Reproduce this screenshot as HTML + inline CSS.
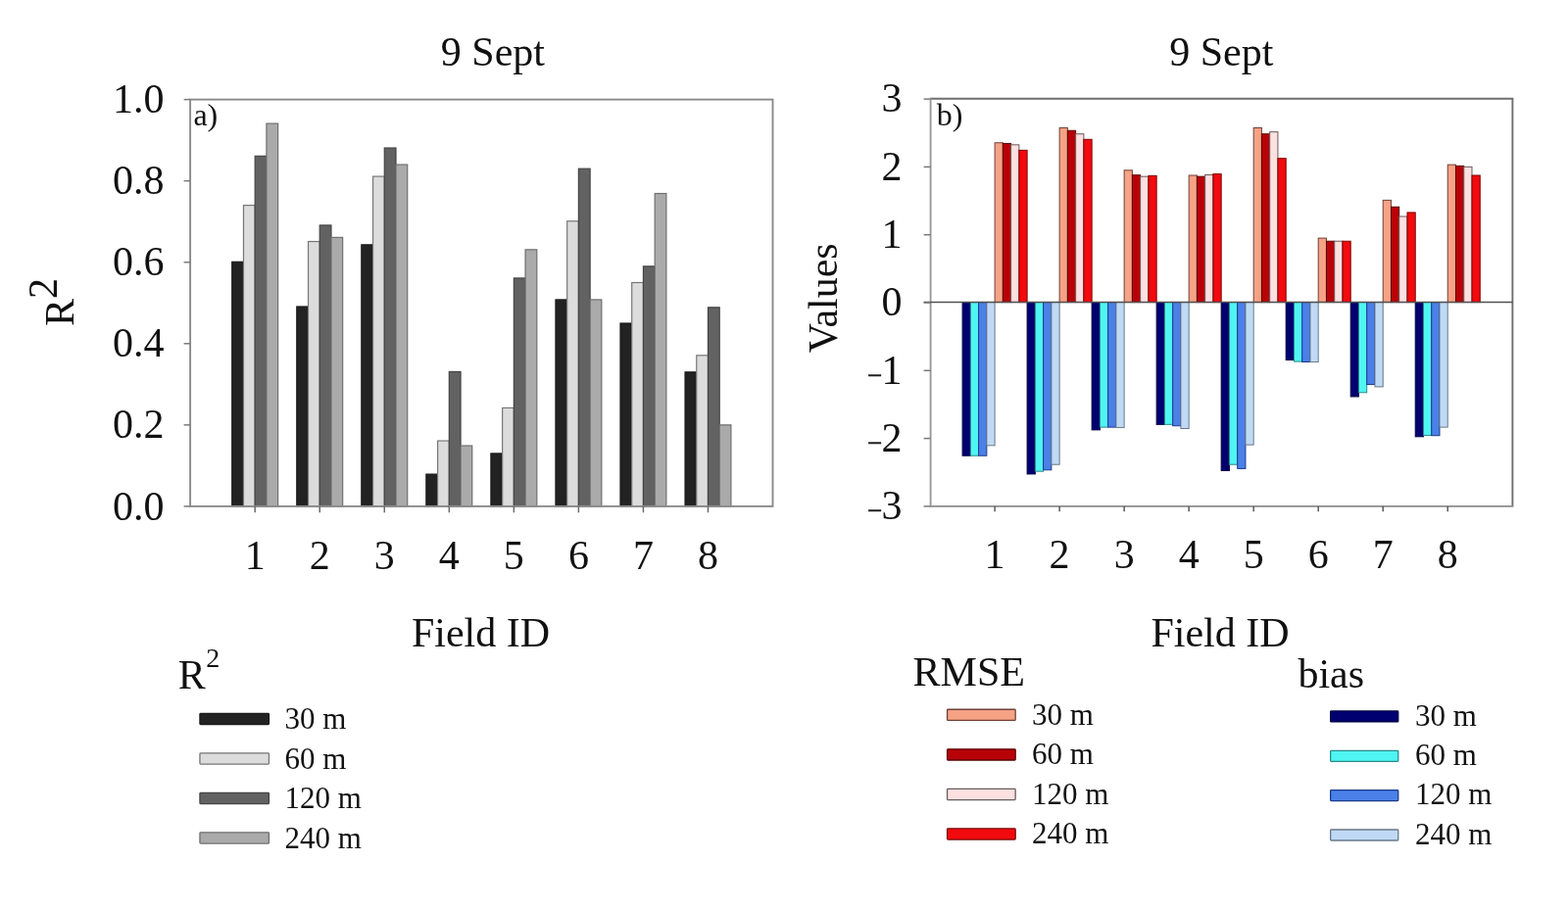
<!DOCTYPE html>
<html><head><meta charset="utf-8"><title>9 Sept</title>
<style>
html,body{margin:0;padding:0;background:#fff;}
body{width:1600px;height:928px;overflow:hidden;}
svg{display:block;}
svg text{font-family:"Liberation Serif", "Times New Roman", serif;fill:#111;}
</style></head>
<body>
<svg width="1600" height="928" viewBox="0 0 1600 928">
<rect x="0" y="0" width="1600" height="928" fill="#ffffff"/>
<rect x="236.76" y="267.30" width="11.72" height="249.60" fill="#222222" stroke="#1a1a1a" stroke-width="1.2"/>
<rect x="248.48" y="209.58" width="11.72" height="307.32" fill="#dcdcdc" stroke="#777777" stroke-width="1.2"/>
<rect x="260.20" y="159.33" width="11.72" height="357.57" fill="#626262" stroke="#444444" stroke-width="1.2"/>
<rect x="271.92" y="126.10" width="11.72" height="390.80" fill="#aaaaaa" stroke="#6f6f6f" stroke-width="1.2"/>
<rect x="302.80" y="312.99" width="11.72" height="203.91" fill="#222222" stroke="#1a1a1a" stroke-width="1.2"/>
<rect x="314.52" y="246.54" width="11.72" height="270.36" fill="#dcdcdc" stroke="#777777" stroke-width="1.2"/>
<rect x="326.24" y="229.93" width="11.72" height="286.97" fill="#626262" stroke="#444444" stroke-width="1.2"/>
<rect x="337.96" y="242.39" width="11.72" height="274.51" fill="#aaaaaa" stroke="#6f6f6f" stroke-width="1.2"/>
<rect x="368.84" y="249.86" width="11.72" height="267.04" fill="#222222" stroke="#1a1a1a" stroke-width="1.2"/>
<rect x="380.56" y="180.09" width="11.72" height="336.81" fill="#dcdcdc" stroke="#777777" stroke-width="1.2"/>
<rect x="392.28" y="151.02" width="11.72" height="365.88" fill="#626262" stroke="#444444" stroke-width="1.2"/>
<rect x="404.00" y="168.05" width="11.72" height="348.85" fill="#aaaaaa" stroke="#6f6f6f" stroke-width="1.2"/>
<rect x="434.88" y="484.09" width="11.72" height="32.81" fill="#222222" stroke="#1a1a1a" stroke-width="1.2"/>
<rect x="446.60" y="450.04" width="11.72" height="66.86" fill="#dcdcdc" stroke="#777777" stroke-width="1.2"/>
<rect x="458.32" y="379.44" width="11.72" height="137.46" fill="#626262" stroke="#444444" stroke-width="1.2"/>
<rect x="470.04" y="455.02" width="11.72" height="61.88" fill="#aaaaaa" stroke="#6f6f6f" stroke-width="1.2"/>
<rect x="500.92" y="462.91" width="11.72" height="53.99" fill="#222222" stroke="#1a1a1a" stroke-width="1.2"/>
<rect x="512.64" y="416.40" width="11.72" height="100.50" fill="#dcdcdc" stroke="#777777" stroke-width="1.2"/>
<rect x="524.36" y="283.92" width="11.72" height="232.98" fill="#626262" stroke="#444444" stroke-width="1.2"/>
<rect x="536.08" y="254.85" width="11.72" height="262.05" fill="#aaaaaa" stroke="#6f6f6f" stroke-width="1.2"/>
<rect x="566.96" y="305.93" width="11.72" height="210.97" fill="#222222" stroke="#1a1a1a" stroke-width="1.2"/>
<rect x="578.68" y="225.77" width="11.72" height="291.13" fill="#dcdcdc" stroke="#777777" stroke-width="1.2"/>
<rect x="590.40" y="172.20" width="11.72" height="344.70" fill="#626262" stroke="#444444" stroke-width="1.2"/>
<rect x="602.12" y="305.93" width="11.72" height="210.97" fill="#aaaaaa" stroke="#6f6f6f" stroke-width="1.2"/>
<rect x="633.00" y="330.01" width="11.72" height="186.88" fill="#222222" stroke="#1a1a1a" stroke-width="1.2"/>
<rect x="644.72" y="288.49" width="11.72" height="228.41" fill="#dcdcdc" stroke="#777777" stroke-width="1.2"/>
<rect x="656.44" y="271.87" width="11.72" height="245.03" fill="#626262" stroke="#444444" stroke-width="1.2"/>
<rect x="668.16" y="197.53" width="11.72" height="319.37" fill="#aaaaaa" stroke="#6f6f6f" stroke-width="1.2"/>
<rect x="699.04" y="379.85" width="11.72" height="137.05" fill="#222222" stroke="#1a1a1a" stroke-width="1.2"/>
<rect x="710.76" y="362.82" width="11.72" height="154.08" fill="#dcdcdc" stroke="#777777" stroke-width="1.2"/>
<rect x="722.48" y="313.82" width="11.72" height="203.08" fill="#626262" stroke="#444444" stroke-width="1.2"/>
<rect x="734.20" y="433.84" width="11.72" height="83.06" fill="#aaaaaa" stroke="#6f6f6f" stroke-width="1.2"/>
<rect x="982.09" y="308.60" width="8.25" height="156.62" fill="#000070" stroke="#000040" stroke-width="1.0"/>
<rect x="990.34" y="308.60" width="8.25" height="156.62" fill="#4ff5f2" stroke="#2a8a8a" stroke-width="1.0"/>
<rect x="998.60" y="308.60" width="8.25" height="156.62" fill="#4a80e8" stroke="#1a3a8a" stroke-width="1.0"/>
<rect x="1006.85" y="308.60" width="8.25" height="146.22" fill="#c0daf6" stroke="#6a7888" stroke-width="1.0"/>
<rect x="1015.10" y="145.74" width="8.25" height="162.86" fill="#f6a285" stroke="#6e4038" stroke-width="1.0"/>
<rect x="1023.35" y="146.44" width="8.25" height="162.16" fill="#b80208" stroke="#5a0404" stroke-width="1.0"/>
<rect x="1031.61" y="147.82" width="8.25" height="160.78" fill="#fde0e0" stroke="#6a5a5a" stroke-width="1.0"/>
<rect x="1039.86" y="153.37" width="8.25" height="155.23" fill="#f20a0e" stroke="#7a0606" stroke-width="1.0"/>
<rect x="1048.11" y="308.60" width="8.25" height="175.33" fill="#000070" stroke="#000040" stroke-width="1.0"/>
<rect x="1056.36" y="308.60" width="8.25" height="172.56" fill="#4ff5f2" stroke="#2a8a8a" stroke-width="1.0"/>
<rect x="1064.62" y="308.60" width="8.25" height="171.17" fill="#4a80e8" stroke="#1a3a8a" stroke-width="1.0"/>
<rect x="1072.87" y="308.60" width="8.25" height="165.63" fill="#c0daf6" stroke="#6a7888" stroke-width="1.0"/>
<rect x="1081.12" y="130.50" width="8.25" height="178.10" fill="#f6a285" stroke="#6e4038" stroke-width="1.0"/>
<rect x="1089.37" y="133.27" width="8.25" height="175.33" fill="#b80208" stroke="#5a0404" stroke-width="1.0"/>
<rect x="1097.63" y="136.74" width="8.25" height="171.86" fill="#fde0e0" stroke="#6a5a5a" stroke-width="1.0"/>
<rect x="1105.88" y="142.28" width="8.25" height="166.32" fill="#f20a0e" stroke="#7a0606" stroke-width="1.0"/>
<rect x="1114.13" y="308.60" width="8.25" height="130.28" fill="#000070" stroke="#000040" stroke-width="1.0"/>
<rect x="1122.38" y="308.60" width="8.25" height="127.51" fill="#4ff5f2" stroke="#2a8a8a" stroke-width="1.0"/>
<rect x="1130.64" y="308.60" width="8.25" height="127.51" fill="#4a80e8" stroke="#1a3a8a" stroke-width="1.0"/>
<rect x="1138.89" y="308.60" width="8.25" height="127.86" fill="#c0daf6" stroke="#6a7888" stroke-width="1.0"/>
<rect x="1147.14" y="173.81" width="8.25" height="134.79" fill="#f6a285" stroke="#6e4038" stroke-width="1.0"/>
<rect x="1155.39" y="178.73" width="8.25" height="129.87" fill="#b80208" stroke="#5a0404" stroke-width="1.0"/>
<rect x="1163.65" y="180.19" width="8.25" height="128.41" fill="#fde0e0" stroke="#6a5a5a" stroke-width="1.0"/>
<rect x="1171.90" y="179.36" width="8.25" height="129.24" fill="#f20a0e" stroke="#7a0606" stroke-width="1.0"/>
<rect x="1180.15" y="308.60" width="8.25" height="124.74" fill="#000070" stroke="#000040" stroke-width="1.0"/>
<rect x="1188.40" y="308.60" width="8.25" height="124.74" fill="#4ff5f2" stroke="#2a8a8a" stroke-width="1.0"/>
<rect x="1196.66" y="308.60" width="8.25" height="126.13" fill="#4a80e8" stroke="#1a3a8a" stroke-width="1.0"/>
<rect x="1204.91" y="308.60" width="8.25" height="128.90" fill="#c0daf6" stroke="#6a7888" stroke-width="1.0"/>
<rect x="1213.16" y="179.01" width="8.25" height="129.59" fill="#f6a285" stroke="#6e4038" stroke-width="1.0"/>
<rect x="1221.41" y="180.19" width="8.25" height="128.41" fill="#b80208" stroke="#5a0404" stroke-width="1.0"/>
<rect x="1229.67" y="178.52" width="8.25" height="130.08" fill="#fde0e0" stroke="#6a5a5a" stroke-width="1.0"/>
<rect x="1237.92" y="177.62" width="8.25" height="130.98" fill="#f20a0e" stroke="#7a0606" stroke-width="1.0"/>
<rect x="1246.17" y="308.60" width="8.25" height="171.86" fill="#000070" stroke="#000040" stroke-width="1.0"/>
<rect x="1254.42" y="308.60" width="8.25" height="165.63" fill="#4ff5f2" stroke="#2a8a8a" stroke-width="1.0"/>
<rect x="1262.68" y="308.60" width="8.25" height="169.79" fill="#4a80e8" stroke="#1a3a8a" stroke-width="1.0"/>
<rect x="1270.93" y="308.60" width="8.25" height="145.53" fill="#c0daf6" stroke="#6a7888" stroke-width="1.0"/>
<rect x="1279.18" y="130.50" width="8.25" height="178.10" fill="#f6a285" stroke="#6e4038" stroke-width="1.0"/>
<rect x="1287.43" y="136.74" width="8.25" height="171.86" fill="#b80208" stroke="#5a0404" stroke-width="1.0"/>
<rect x="1295.69" y="134.66" width="8.25" height="173.94" fill="#fde0e0" stroke="#6a5a5a" stroke-width="1.0"/>
<rect x="1303.94" y="161.68" width="8.25" height="146.92" fill="#f20a0e" stroke="#7a0606" stroke-width="1.0"/>
<rect x="1312.19" y="308.60" width="8.25" height="58.91" fill="#000070" stroke="#000040" stroke-width="1.0"/>
<rect x="1320.44" y="308.60" width="8.25" height="60.50" fill="#4ff5f2" stroke="#2a8a8a" stroke-width="1.0"/>
<rect x="1328.70" y="308.60" width="8.25" height="60.91" fill="#4a80e8" stroke="#1a3a8a" stroke-width="1.0"/>
<rect x="1336.95" y="308.60" width="8.25" height="60.98" fill="#c0daf6" stroke="#6a7888" stroke-width="1.0"/>
<rect x="1345.20" y="243.11" width="8.25" height="65.49" fill="#f6a285" stroke="#6e4038" stroke-width="1.0"/>
<rect x="1353.45" y="246.23" width="8.25" height="62.37" fill="#b80208" stroke="#5a0404" stroke-width="1.0"/>
<rect x="1361.71" y="246.23" width="8.25" height="62.37" fill="#fde0e0" stroke="#6a5a5a" stroke-width="1.0"/>
<rect x="1369.96" y="246.23" width="8.25" height="62.37" fill="#f20a0e" stroke="#7a0606" stroke-width="1.0"/>
<rect x="1378.21" y="308.60" width="8.25" height="96.33" fill="#000070" stroke="#000040" stroke-width="1.0"/>
<rect x="1386.46" y="308.60" width="8.25" height="92.17" fill="#4ff5f2" stroke="#2a8a8a" stroke-width="1.0"/>
<rect x="1394.72" y="308.60" width="8.25" height="83.85" fill="#4a80e8" stroke="#1a3a8a" stroke-width="1.0"/>
<rect x="1402.97" y="308.60" width="8.25" height="86.28" fill="#c0daf6" stroke="#6a7888" stroke-width="1.0"/>
<rect x="1411.22" y="204.37" width="8.25" height="104.23" fill="#f6a285" stroke="#6e4038" stroke-width="1.0"/>
<rect x="1419.47" y="211.23" width="8.25" height="97.37" fill="#b80208" stroke="#5a0404" stroke-width="1.0"/>
<rect x="1427.73" y="221.00" width="8.25" height="87.60" fill="#fde0e0" stroke="#6a5a5a" stroke-width="1.0"/>
<rect x="1435.98" y="216.92" width="8.25" height="91.68" fill="#f20a0e" stroke="#7a0606" stroke-width="1.0"/>
<rect x="1444.23" y="308.60" width="8.25" height="137.21" fill="#000070" stroke="#000040" stroke-width="1.0"/>
<rect x="1452.48" y="308.60" width="8.25" height="135.83" fill="#4ff5f2" stroke="#2a8a8a" stroke-width="1.0"/>
<rect x="1460.74" y="308.60" width="8.25" height="136.11" fill="#4a80e8" stroke="#1a3a8a" stroke-width="1.0"/>
<rect x="1468.99" y="308.60" width="8.25" height="127.51" fill="#c0daf6" stroke="#6a7888" stroke-width="1.0"/>
<rect x="1477.24" y="168.13" width="8.25" height="140.47" fill="#f6a285" stroke="#6e4038" stroke-width="1.0"/>
<rect x="1485.49" y="169.38" width="8.25" height="139.22" fill="#b80208" stroke="#5a0404" stroke-width="1.0"/>
<rect x="1493.75" y="170.35" width="8.25" height="138.25" fill="#fde0e0" stroke="#6a5a5a" stroke-width="1.0"/>
<rect x="1502.00" y="179.01" width="8.25" height="129.59" fill="#f20a0e" stroke="#7a0606" stroke-width="1.0"/>
<rect x="194.1" y="101.6" width="594.40" height="415.30" fill="none" stroke="#8a8a8a" stroke-width="1.9"/>
<line x1="187.60" y1="516.90" x2="194.10" y2="516.90" stroke="#7a7a7a" stroke-width="1.5"/>
<line x1="187.60" y1="433.84" x2="194.10" y2="433.84" stroke="#7a7a7a" stroke-width="1.5"/>
<line x1="187.60" y1="350.78" x2="194.10" y2="350.78" stroke="#7a7a7a" stroke-width="1.5"/>
<line x1="187.60" y1="267.72" x2="194.10" y2="267.72" stroke="#7a7a7a" stroke-width="1.5"/>
<line x1="187.60" y1="184.66" x2="194.10" y2="184.66" stroke="#7a7a7a" stroke-width="1.5"/>
<line x1="187.60" y1="101.60" x2="194.10" y2="101.60" stroke="#7a7a7a" stroke-width="1.5"/>
<line x1="260.20" y1="516.90" x2="260.20" y2="523.30" stroke="#6a6a6a" stroke-width="1.5"/>
<line x1="326.24" y1="516.90" x2="326.24" y2="523.30" stroke="#6a6a6a" stroke-width="1.5"/>
<line x1="392.28" y1="516.90" x2="392.28" y2="523.30" stroke="#6a6a6a" stroke-width="1.5"/>
<line x1="458.32" y1="516.90" x2="458.32" y2="523.30" stroke="#6a6a6a" stroke-width="1.5"/>
<line x1="524.36" y1="516.90" x2="524.36" y2="523.30" stroke="#6a6a6a" stroke-width="1.5"/>
<line x1="590.40" y1="516.90" x2="590.40" y2="523.30" stroke="#6a6a6a" stroke-width="1.5"/>
<line x1="656.44" y1="516.90" x2="656.44" y2="523.30" stroke="#6a6a6a" stroke-width="1.5"/>
<line x1="722.48" y1="516.90" x2="722.48" y2="523.30" stroke="#6a6a6a" stroke-width="1.5"/>
<line x1="949.60" y1="100.70" x2="1544.30" y2="100.70" stroke="#6e6e6e" stroke-width="1.9"/>
<line x1="1543.40" y1="100.70" x2="1543.40" y2="516.90" stroke="#6e6e6e" stroke-width="1.9"/>
<line x1="948.70" y1="516.90" x2="1544.30" y2="516.90" stroke="#8c8c8c" stroke-width="1.9"/>
<line x1="949.60" y1="99.80" x2="949.60" y2="516.90" stroke="#9a9a9a" stroke-width="1.9"/>
<line x1="942.60" y1="308.60" x2="1543.40" y2="308.60" stroke="#505050" stroke-width="1.5"/>
<line x1="942.60" y1="516.90" x2="949.60" y2="516.90" stroke="#7a7a7a" stroke-width="1.5"/>
<line x1="942.60" y1="447.60" x2="949.60" y2="447.60" stroke="#7a7a7a" stroke-width="1.5"/>
<line x1="942.60" y1="378.30" x2="949.60" y2="378.30" stroke="#7a7a7a" stroke-width="1.5"/>
<line x1="942.60" y1="309.00" x2="949.60" y2="309.00" stroke="#7a7a7a" stroke-width="1.5"/>
<line x1="942.60" y1="239.70" x2="949.60" y2="239.70" stroke="#7a7a7a" stroke-width="1.5"/>
<line x1="942.60" y1="170.40" x2="949.60" y2="170.40" stroke="#7a7a7a" stroke-width="1.5"/>
<line x1="942.60" y1="101.10" x2="949.60" y2="101.10" stroke="#7a7a7a" stroke-width="1.5"/>
<line x1="1015.10" y1="516.90" x2="1015.10" y2="522.30" stroke="#5a5a5a" stroke-width="1.5"/>
<line x1="1081.12" y1="516.90" x2="1081.12" y2="522.30" stroke="#5a5a5a" stroke-width="1.5"/>
<line x1="1147.14" y1="516.90" x2="1147.14" y2="522.30" stroke="#5a5a5a" stroke-width="1.5"/>
<line x1="1213.16" y1="516.90" x2="1213.16" y2="522.30" stroke="#5a5a5a" stroke-width="1.5"/>
<line x1="1279.18" y1="516.90" x2="1279.18" y2="522.30" stroke="#5a5a5a" stroke-width="1.5"/>
<line x1="1345.20" y1="516.90" x2="1345.20" y2="522.30" stroke="#5a5a5a" stroke-width="1.5"/>
<line x1="1411.22" y1="516.90" x2="1411.22" y2="522.30" stroke="#5a5a5a" stroke-width="1.5"/>
<line x1="1477.24" y1="516.90" x2="1477.24" y2="522.30" stroke="#5a5a5a" stroke-width="1.5"/>
<text x="167.60" y="531.10" font-size="42" text-anchor="end">0.0</text>
<text x="167.60" y="447.24" font-size="42" text-anchor="end">0.2</text>
<text x="167.60" y="364.18" font-size="42" text-anchor="end">0.4</text>
<text x="167.60" y="281.12" font-size="42" text-anchor="end">0.6</text>
<text x="167.60" y="198.06" font-size="42" text-anchor="end">0.8</text>
<text x="167.60" y="115.00" font-size="42" text-anchor="end">1.0</text>
<text x="260.20" y="581.30" font-size="42" text-anchor="middle">1</text>
<text x="326.24" y="581.30" font-size="42" text-anchor="middle">2</text>
<text x="392.28" y="581.30" font-size="42" text-anchor="middle">3</text>
<text x="458.32" y="581.30" font-size="42" text-anchor="middle">4</text>
<text x="524.36" y="581.30" font-size="42" text-anchor="middle">5</text>
<text x="590.40" y="581.30" font-size="42" text-anchor="middle">6</text>
<text x="656.44" y="581.30" font-size="42" text-anchor="middle">7</text>
<text x="722.48" y="581.30" font-size="42" text-anchor="middle">8</text>
<text x="920.60" y="530.20" font-size="42" text-anchor="end"><tspan font-size="27" stroke="#111" stroke-width="0.5">−</tspan><tspan dx="-0.7">3</tspan></text>
<text x="920.60" y="460.90" font-size="42" text-anchor="end"><tspan font-size="27" stroke="#111" stroke-width="0.5">−</tspan><tspan dx="-0.7">2</tspan></text>
<text x="920.60" y="391.60" font-size="42" text-anchor="end"><tspan font-size="27" stroke="#111" stroke-width="0.5">−</tspan><tspan dx="-0.7">1</tspan></text>
<text x="920.60" y="322.30" font-size="42" text-anchor="end">0</text>
<text x="920.60" y="253.00" font-size="42" text-anchor="end">1</text>
<text x="920.60" y="183.70" font-size="42" text-anchor="end">2</text>
<text x="920.60" y="114.40" font-size="42" text-anchor="end">3</text>
<text x="1015.10" y="580.30" font-size="42" text-anchor="middle">1</text>
<text x="1081.12" y="580.30" font-size="42" text-anchor="middle">2</text>
<text x="1147.14" y="580.30" font-size="42" text-anchor="middle">3</text>
<text x="1213.16" y="580.30" font-size="42" text-anchor="middle">4</text>
<text x="1279.18" y="580.30" font-size="42" text-anchor="middle">5</text>
<text x="1345.20" y="580.30" font-size="42" text-anchor="middle">6</text>
<text x="1411.22" y="580.30" font-size="42" text-anchor="middle">7</text>
<text x="1477.24" y="580.30" font-size="42" text-anchor="middle">8</text>
<text x="197.40" y="127.80" font-size="32" text-anchor="start">a)</text>
<text x="955.80" y="128.20" font-size="32" text-anchor="start">b)</text>
<text x="502.90" y="67.30" font-size="42" text-anchor="middle">9 Sept</text>
<text x="1246.30" y="66.50" font-size="42" text-anchor="middle">9 Sept</text>
<text x="490.50" y="660.10" font-size="42" text-anchor="middle">Field ID</text>
<text x="1245.00" y="659.50" font-size="42" text-anchor="middle">Field ID</text>
<text transform="translate(74.7 332.9) rotate(-90)" font-size="42">R<tspan dy="-16.8">2</tspan></text>
<text transform="translate(854.2 304.3) rotate(-90)" font-size="42" text-anchor="middle">Values</text>
<text x="181.70" y="702.80" font-size="42" text-anchor="start">R</text>
<text x="210.20" y="681.20" font-size="28" text-anchor="start">2</text>
<text x="931.60" y="700.20" font-size="42" text-anchor="start">RMSE</text>
<text x="1324.40" y="701.50" font-size="42" text-anchor="start">bias</text>
<rect x="203.95" y="728.35" width="70.50" height="11.20" rx="0.8" fill="#222222" stroke="#1a1a1a" stroke-width="1.3"/>
<text x="290.50" y="744.40" font-size="31" text-anchor="start">30 m</text>
<rect x="203.95" y="768.85" width="70.50" height="11.20" rx="0.8" fill="#dcdcdc" stroke="#777777" stroke-width="1.3"/>
<text x="290.50" y="784.90" font-size="31" text-anchor="start">60 m</text>
<rect x="203.95" y="809.35" width="70.50" height="11.20" rx="0.8" fill="#626262" stroke="#444444" stroke-width="1.3"/>
<text x="290.50" y="825.40" font-size="31" text-anchor="start">120 m</text>
<rect x="203.95" y="849.85" width="70.50" height="11.20" rx="0.8" fill="#aaaaaa" stroke="#6f6f6f" stroke-width="1.3"/>
<text x="290.50" y="865.90" font-size="31" text-anchor="start">240 m</text>
<rect x="966.55" y="724.25" width="69.60" height="11.20" rx="0.8" fill="#f6a285" stroke="#6e4038" stroke-width="1.3"/>
<text x="1053.10" y="739.50" font-size="31" text-anchor="start">30 m</text>
<rect x="966.55" y="764.80" width="69.60" height="11.20" rx="0.8" fill="#b80208" stroke="#5a0404" stroke-width="1.3"/>
<text x="1053.10" y="780.05" font-size="31" text-anchor="start">60 m</text>
<rect x="966.55" y="805.35" width="69.60" height="11.20" rx="0.8" fill="#fde0e0" stroke="#6a5a5a" stroke-width="1.3"/>
<text x="1053.10" y="820.60" font-size="31" text-anchor="start">120 m</text>
<rect x="966.55" y="845.90" width="69.60" height="11.20" rx="0.8" fill="#f20a0e" stroke="#7a0606" stroke-width="1.3"/>
<text x="1053.10" y="861.15" font-size="31" text-anchor="start">240 m</text>
<rect x="1357.65" y="725.95" width="69.10" height="11.00" rx="0.8" fill="#000070" stroke="#000040" stroke-width="1.3"/>
<text x="1444.10" y="740.60" font-size="31" text-anchor="start">30 m</text>
<rect x="1357.65" y="766.30" width="69.10" height="11.00" rx="0.8" fill="#4ff5f2" stroke="#2a8a8a" stroke-width="1.3"/>
<text x="1444.10" y="780.95" font-size="31" text-anchor="start">60 m</text>
<rect x="1357.65" y="806.65" width="69.10" height="11.00" rx="0.8" fill="#4a80e8" stroke="#1a3a8a" stroke-width="1.3"/>
<text x="1444.10" y="821.30" font-size="31" text-anchor="start">120 m</text>
<rect x="1357.65" y="847.00" width="69.10" height="11.00" rx="0.8" fill="#c0daf6" stroke="#6a7888" stroke-width="1.3"/>
<text x="1444.10" y="861.65" font-size="31" text-anchor="start">240 m</text>
</svg>
</body></html>
